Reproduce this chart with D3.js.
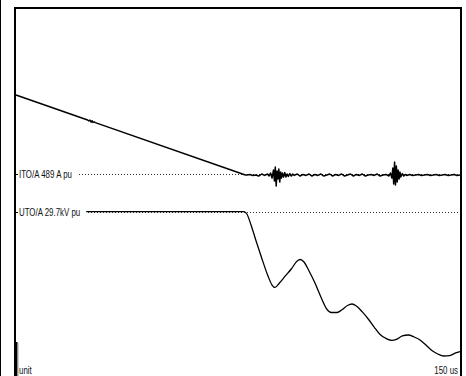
<!DOCTYPE html>
<html>
<head>
<meta charset="utf-8">
<script src="https://cdn.jsdelivr.net/npm/d3@7"></script>
<style>
  html, body { margin: 0; padding: 0; background: #fff; }
  svg { display: block; }
  text { font-family: "Liberation Sans", Arial, sans-serif; font-size: 10px; fill: #111; }
</style>
</head>
<body>
<script>
// Time base of the record (microseconds)
const timeDomain = [0, 150];
const timeLabel = "150 us";
const unitLabel = "unit";

// Channel labels and per-unit reference levels
const channelNames = ["ITO/A 489 A pu", "UTO/A 29.7kV pu"];
const referenceLevels = [1.0, 1.0];

// Current channel: [time (us), current (pu)]
const currentTrace = [
  [0, 1.549], [24.2, 1.375], [24.6, 1.368], [25.0, 1.374], [25.4, 1.360], [25.7, 1.370], [26.0, 1.358],
  [26.4, 1.362], [26.8, 1.357],
  [77.5, 0.993], [78, 0.993], [79, 0.997], [80, 0.990], [81, 0.993], [82, 0.986], [83, 1.000],
  [84, 0.990], [85, 1.000], [85.5, 0.986], [86, 1.007], [86.5, 0.972], [87, 1.028], [87.3, 0.951],
  [87.6, 1.049], [87.9, 0.917], [88.2, 1.021], [88.5, 0.965], [88.8, 1.035], [89.1, 0.944],
  [89.4, 1.014], [89.7, 0.972], [90, 1.007], [90.4, 0.979], [90.8, 1.010], [91.2, 0.979],
  [91.6, 1.000], [92, 0.983], [92.5, 1.003], [93, 0.986], [93.5, 1.000], [94, 0.990], [95, 1.000],
  [96, 0.986], [97, 0.997], [98, 0.990], [99, 1.000], [100, 0.986], [101, 0.997], [102, 0.990],
  [103, 1.000], [104, 0.986], [105, 0.993], [106, 1.000], [107, 0.986], [108, 0.997], [109, 0.990],
  [110, 1.000], [111, 0.986], [112, 0.993], [113, 1.000], [114, 0.986], [115, 0.997], [116, 0.990],
  [117, 1.000], [118, 0.986], [119, 0.993], [120, 0.997], [121, 0.990], [122, 1.000], [123, 0.986],
  [124, 0.993], [125, 0.997], [126, 0.986], [126.5, 1.007], [127, 0.972], [127.3, 1.042],
  [127.6, 0.931], [127.9, 1.083], [128.2, 0.924], [128.5, 1.056], [128.8, 0.944], [129.1, 1.028],
  [129.4, 0.965], [129.7, 1.014], [130, 0.979], [130.5, 1.003], [131, 0.986], [131.5, 0.997],
  [132, 0.990], [133, 0.997], [134, 0.990], [135, 0.993], [136, 0.997], [137, 0.990], [138, 0.993],
  [139, 0.997], [140, 0.990], [141, 0.993], [142, 0.997], [143, 0.990], [144, 0.993], [145, 0.997],
  [146, 0.990], [147, 0.993], [148, 0.997], [149, 0.990], [150, 0.993]
];

// Voltage channel: [time (us), voltage (pu)]
const voltageTrace = [
  [0, 1.003], [77.0, 1.003], [78.0, 0.986], [79.4, 0.910], [81, 0.806], [83, 0.681], [85, 0.563],
  [86.5, 0.493], [87.5, 0.476], [89, 0.507], [91, 0.556], [93, 0.604], [95, 0.660], [96, 0.670],
  [97.3, 0.653], [99, 0.590], [101, 0.507], [103, 0.410], [105, 0.326], [106.5, 0.302],
  [108.5, 0.302], [110, 0.319], [112, 0.351], [113.5, 0.361], [115, 0.347], [117, 0.306],
  [119, 0.257], [121, 0.201], [123, 0.149], [125, 0.122], [127, 0.108], [128.5, 0.115],
  [130.5, 0.139], [132.5, 0.146], [134.5, 0.132], [136.5, 0.111], [138.5, 0.076], [140.5, 0.038],
  [142.5, 0.014], [144.5, 0.000], [146.5, 0.003], [148.5, 0.021], [150, 0.031]
];

const W = 466, H = 376;
const narrow = 0.79; // horizontal squeeze for the label face

const svg = d3.select("body").append("svg").attr("width", W).attr("height", H);

const x = d3.scaleLinear().domain(timeDomain).range([16, 460]);
const yCurrent = d3.scaleLinear().domain([0, 1]).range([318, 174]);
const yVoltage = d3.scaleLinear().domain([0, 1]).range([356, 212]);
const scales = [yCurrent, yVoltage];

// draws condensed text anchored at (px, py)
function narrowText(px, py, str, anchor) {
  const g = svg.append("g").attr("transform", `translate(${px},${py}) scale(${narrow},1)`);
  const t = g.append("text").attr("x", 0).attr("y", 0).text(str);
  if (anchor) t.attr("text-anchor", anchor);
  return { g, t };
}

// outer edge line
svg.append("line").attr("x1", 0.5).attr("x2", 0.5).attr("y1", 0).attr("y2", H)
  .attr("stroke", "#000").attr("stroke-width", 1);

// dotted reference levels
channelNames.forEach((name, i) => {
  const yy = Math.round(scales[i](referenceLevels[i])) + 0.5;
  svg.append("line").attr("x1", 16).attr("x2", 460).attr("y1", yy).attr("y2", yy)
    .attr("stroke", "#333").attr("stroke-width", 1).attr("stroke-dasharray", "1,2");
});

// traces
const lineCurrent = d3.line().x(d => x(d[0])).y(d => yCurrent(d[1]));
const lineVoltage = d3.line().x(d => x(d[0])).y(d => yVoltage(d[1])).curve(d3.curveMonotoneX);

svg.append("path").datum(currentTrace).attr("d", lineCurrent)
  .attr("fill", "none").attr("stroke", "#000").attr("stroke-width", 1.5).attr("stroke-linejoin", "round");
svg.append("path").datum(voltageTrace).attr("d", lineVoltage)
  .attr("fill", "none").attr("stroke", "#000").attr("stroke-width", 1.3).attr("stroke-linejoin", "round");

// channel labels on white backing
channelNames.forEach((name, i) => {
  const yy = scales[i](referenceLevels[i]);
  const { g, t } = narrowText(19, yy, name);
  t.attr("dy", "0.35em");
  const bb = t.node().getBBox();
  g.insert("rect", "text").attr("x", -4).attr("y", bb.y - 1)
    .attr("width", bb.width + 4 + 6 / narrow).attr("height", bb.height + 2).attr("fill", "#fff");
  svg.append("line").attr("x1", 16).attr("x2", 18).attr("y1", Math.round(yy) + 0.5).attr("y2", Math.round(yy) + 0.5)
    .attr("stroke", "#000").attr("stroke-width", 1);
});

// frame (open at the bottom)
svg.append("path").attr("d", `M15,${H + 10}V8H461V${H + 10}`)
  .attr("fill", "none").attr("stroke", "#000").attr("stroke-width", 2);

// unit bar
svg.append("rect").attr("x", 14).attr("y", 342).attr("width", 3.5).attr("height", H - 342).attr("fill", "#000");
svg.append("line").attr("x1", 18).attr("x2", 18).attr("y1", 343).attr("y2", H)
  .attr("stroke", "#999").attr("stroke-width", 1);

// bottom labels
narrowText(19, 374, unitLabel);
narrowText(458, 374, timeLabel, "end");
</script>
</body>
</html>
